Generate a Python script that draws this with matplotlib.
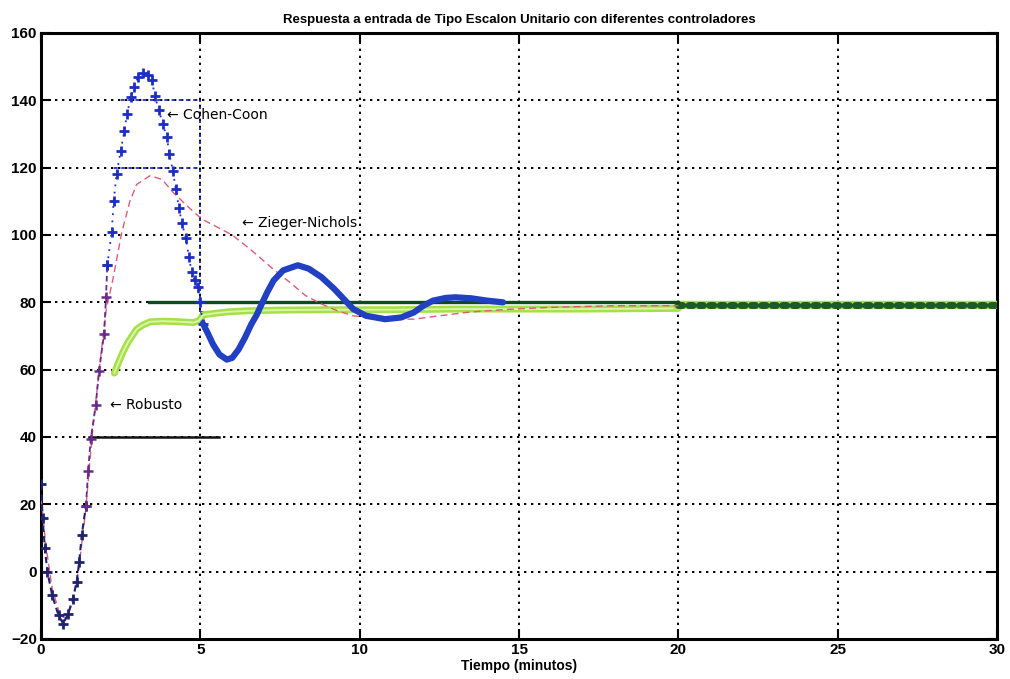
import matplotlib
matplotlib.use("Agg")
import matplotlib.pyplot as plt
import numpy as np

plt.rcParams['font.family'] = ['Liberation Sans', 'DejaVu Sans']

# ---------------- data ----------------
cc_t = [0.0, 0.05, 0.12, 0.2, 0.35, 0.55, 0.7, 0.85, 1.0, 1.12, 1.2, 1.28, 1.41, 1.48,
        1.56, 1.72, 1.82, 1.98, 2.04, 2.08, 2.22, 2.28, 2.37, 2.5, 2.62, 2.7, 2.82, 2.92,
        3.05, 3.2, 3.35, 3.48, 3.57, 3.7, 3.82, 3.95, 4.03, 4.14, 4.23, 4.33, 4.42, 4.55,
        4.64, 4.73, 4.82, 4.92, 4.98, 5.08, 5.24, 5.4, 5.6, 5.83, 6.0, 6.2, 6.4, 6.6, 6.77,
        6.9, 7.1, 7.3, 7.6, 8.06, 8.4, 8.8, 9.2, 9.5, 9.8, 10.2, 10.8, 11.3, 11.7, 12.0,
        12.3, 12.7, 13.0, 13.5, 14.0, 14.5]
cc_y = [26, 16, 7, 0, -7, -13, -15.5, -12.5, -8, -3, 3, 11, 19.5, 30,
        39.4, 49.6, 59.5, 70.7, 81.6, 91, 101, 110, 118, 125, 131, 136, 141, 144,
        147, 148, 147.5, 146, 141.4, 137, 133, 129, 124, 119, 113.6, 108, 103.5, 99,
        93.5, 89, 86.5, 84.6, 80, 73.7, 70.7, 67.5, 64.5, 63, 63.5, 66, 69.5, 73.5, 76.3,
        79, 83, 86.5, 89.5, 91, 90, 87.5, 84, 81, 78, 76, 75, 75.5, 77, 79,
        80.5, 81.3, 81.5, 81.2, 80.5, 80]

zn_t = [0, 0.15, 0.35, 0.6, 0.8, 1.0, 1.2, 1.4, 1.6, 1.85, 2.05, 2.26, 2.54, 2.79, 3.0,
        3.42, 3.8, 4.14, 4.6, 5.05, 5.5, 6.0, 6.6, 7.27, 7.8, 8.3, 8.8, 9.3, 9.8, 10.5,
        11.2, 11.7, 12.5, 13.35, 14.0, 14.8, 16, 18, 20]
zn_y = [22, 8, -5, -13, -14, -9, 2, 18, 40, 62, 78, 87, 101, 110, 115,
        117.6, 116.5, 112.7, 108.5, 104.7, 102.5, 100, 95.5, 90, 86, 82, 79.5, 77.5, 76, 75.2,
        75, 75, 76, 77, 77.5, 78, 78.5, 79, 79]

rob_t = [2.3, 2.45, 2.58, 2.74, 3.0, 3.2, 3.42, 3.8, 4.2, 4.77, 4.95, 5.1, 5.5, 5.9,
         6.5, 7.5, 9, 11, 13, 15, 17, 20]
rob_y = [59, 62.5, 65.4, 68.3, 72, 73.3, 74.2, 74.4, 74.3, 74, 74.5, 76.3, 76.8, 77.2,
         77.5, 77.7, 77.8, 77.8, 78, 78, 78, 78.2]
rob_tail_t = [20, 30]
rob_tail_y = [79.3, 79.3]

ref_t = [3.4, 20]
ref_y = [80, 80]
line40_t = [1.5, 5.6]
line40_y = [40, 40]

blue_grid_y = [140, 120, 77]
blue_grid_t0 = [2.5, 2.3, 5.0]
blue_grid_t1 = [5.0, 5.0, 6.8]

labels = ["Cohen-Coon", "Zieger-Nichols", "Robusto"]
label_xy = [(3.95, 135.5), (6.3, 103.5), (2.15, 49.5)]

xticks = [0, 5, 10, 15, 20, 25, 30]
yticks = [-20, 0, 20, 40, 60, 80, 100, 120, 140, 160]

# ---------------- figure ----------------
fig = plt.figure(figsize=(10.1, 6.79), dpi=100)
ax = fig.add_axes([41 / 1010, 1 - 639 / 679, (997 - 41) / 1010, (639 - 33) / 679])
ax.set_xlim(0, 30)
ax.set_ylim(-20, 160)

ax.set_xticks(xticks)
ax.set_yticks(yticks)
ax.grid(True, color='black', linestyle=(0, (1.2, 2.4)), linewidth=1.4)
ax.tick_params(direction='in', length=7, width=1.5, top=True, right=True,
               labelsize=11, pad=3)
for lab in ax.get_xticklabels() + ax.get_yticklabels():
    lab.set_fontweight('bold')
for s in ax.spines.values():
    s.set_linewidth(2.2)

# blue grid artefacts
for gy, g0, g1 in zip(blue_grid_y, blue_grid_t0, blue_grid_t1):
    ax.plot([g0, g1], [gy, gy], color='#2030c0', linestyle=(0, (2, 2)), lw=1.3, zorder=2)
ax.plot([5, 5], [77, 140], color='#2030c0', linestyle=(0, (1.2, 2.4)), lw=1.4, zorder=2)

# black 40 line
ax.plot(line40_t, line40_y, color='#111111', lw=1.8, zorder=3)

# Robusto (green)
ax.plot(rob_t, rob_y, color='#a6e048', lw=5, solid_capstyle='round', zorder=3)
ax.plot(rob_t, rob_y, color='#d9f6a8', lw=1.4, zorder=3)
ax.plot(rob_tail_t, rob_tail_y, color='#a6e048', lw=6, zorder=3)
ax.plot(rob_tail_t, rob_tail_y, color='#1d5a2a', lw=5, linestyle=(0, (0.6, 0.9)),
        dash_capstyle='round', zorder=4)

# reference line
ax.plot(ref_t, ref_y, color='#0e4a1f', lw=2.4, zorder=4)

# Ziegler-Nichols (red dashed)
ax.plot(zn_t, zn_y, color='#e05a78', lw=1.0, linestyle=(0, (5, 3)), zorder=5)

# Cohen-Coon (blue)
cc_t_a = np.array(cc_t)
cc_y_a = np.array(cc_y)
m_low = cc_t_a <= 1.45
m_mid = (cc_t_a >= 1.41) & (cc_t_a <= 2.08)
m_top = (cc_t_a >= 2.08) & (cc_t_a <= 5.08)
m_end = cc_t_a >= 5.0
ax.plot(cc_t_a[m_low], cc_y_a[m_low], color='#1f2270', lw=1.5, linestyle=(0, (3, 2)),
        marker='+', ms=7, mew=2.0, zorder=6)
ax.plot(cc_t_a[m_mid], cc_y_a[m_mid], color='#6a2a8c', lw=1.3, linestyle=(0, (3, 2)),
        marker='+', ms=7, mew=1.8, zorder=6)
ax.plot(cc_t_a[m_top], cc_y_a[m_top], color='#1e2ec4', lw=1.3, linestyle=(0, (1, 3)),
        marker='+', ms=6.5, mew=2.0, zorder=6)
ax.plot(cc_t_a[m_end], cc_y_a[m_end], color='#2140c4', lw=4.5, solid_capstyle='round',
        zorder=6)

# labels
for txt, (lx, ly) in zip(labels, label_xy):
    ax.text(lx, ly, '\u2190 ' + txt, fontsize=10, va='center', ha='left',
            family=['DejaVu Sans'], zorder=7)

ax.set_title('Respuesta a entrada de Tipo Escalon Unitario con diferentes controladores',
             fontsize=9.5, fontweight='bold', pad=7)
ax.set_xlabel('Tiempo (minutos)', fontsize=10, fontweight='bold', labelpad=1)

fig.savefig('out.png', dpi=100)
